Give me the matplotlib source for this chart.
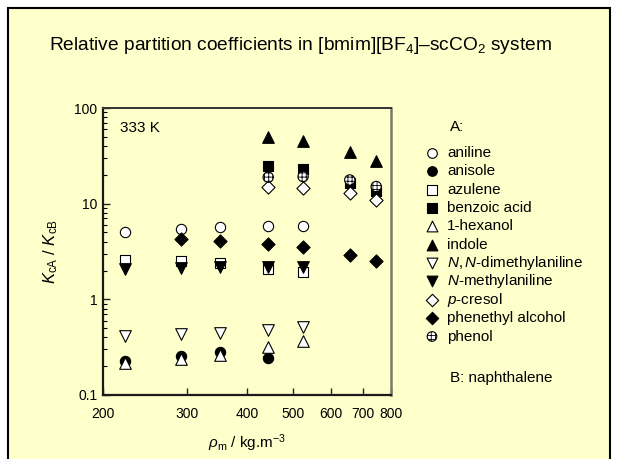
import matplotlib
matplotlib.use("Agg")
import matplotlib.pyplot as plt
from matplotlib.patches import Rectangle
from matplotlib.ticker import NullFormatter, LogLocator, FixedLocator

plt.rcParams['font.family'] = ['Liberation Sans', 'DejaVu Sans']
plt.rcParams['mathtext.fontset'] = 'custom'
plt.rcParams['mathtext.rm'] = 'Liberation Sans'
plt.rcParams['mathtext.it'] = 'Liberation Sans:italic'
plt.rcParams['hatch.linewidth'] = 0.6

# density (kg/m3) of each measurement column
rho = [222, 291, 351, 443, 524, 656, 745]

aniline = [5.1, 5.5, 5.75, 5.9, 5.9]
anisole = [0.225, 0.255, 0.28, 0.245]
azulene = [2.6, 2.5, 2.4, 2.1, 1.95]
benzoic_acid = [24.8, 22.9, 16.5, 13.5]
hexanol = [0.215, 0.24, 0.265, 0.32, 0.37]
indole = [50, 45, 35, 28]
nn_dimethylaniline = [0.415, 0.435, 0.45, 0.48, 0.52]
n_methylaniline = [2.1, 2.15, 2.17, 2.2, 2.2]
p_cresol = [15.1, 14.7, 12.8, 10.9]
phenethyl_alcohol = [4.3, 4.1, 3.8, 3.5, 2.9, 2.5]
phenol = [18.9, 19.2, 17.7, 15.1]

bg = '#FFFFCC'

fig = plt.figure(figsize=(6.18, 4.59), dpi=100, facecolor='white')
fig.patches.append(Rectangle((8 / 618, -0.05), 602 / 618, 1 - 8 / 459 + 0.05,
                             transform=fig.transFigure, facecolor=bg,
                             edgecolor='black', linewidth=1.5, zorder=-10))

ax = fig.add_axes([103 / 618, 1 - 395 / 459, 288 / 618, 287 / 459])
ax.set_facecolor('none')

# overlay in pixel coordinates for the hand-placed key
key = fig.add_axes([0, 0, 1, 1])
key.set_xlim(0, 618)
key.set_ylim(459, 0)
key.axis('off')
key.patch.set_alpha(0)

series = [
    ('aniline', rho[:5], aniline, 'o', 'white', None),
    ('anisole', rho[:4], anisole, 'o', 'black', None),
    ('azulene', rho[:5], azulene, 's', 'white', None),
    ('benzoic acid', rho[3:], benzoic_acid, 's', 'black', None),
    ('1-hexanol', rho[:5], hexanol, '^', 'white', None),
    ('indole', rho[3:], indole, '^', 'black', None),
    (r'$\it{N,N}$-dimethylaniline', rho[:5], nn_dimethylaniline, 'v', 'white', None),
    (r'$\it{N}$-methylaniline', rho[:5], n_methylaniline, 'v', 'black', None),
    (r'$\it{p}$-cresol', rho[3:], p_cresol, 'D', 'white', None),
    ('phenethyl alcohol', rho[1:], phenethyl_alcohol, 'D', 'black', None),
    ('phenol', rho[3:], phenol, 'o', 'white', '++++'),
]
sizes = {'o': 55, 's': 48, '^': 70, 'v': 70, 'D': 45}
key_sizes = {'o': 48, 's': 42, '^': 60, 'v': 60, 'D': 40}

row0, step = 153, 18.35
for i, (lab, xs, ys, mk, fc, hatch) in enumerate(series):
    ax.scatter(xs, ys, s=sizes[mk], marker=mk, facecolor=fc,
               edgecolor='black', linewidths=0.8, hatch=hatch,
               zorder=3 + i, clip_on=False)
    yk = row0 + i * step
    key.scatter([432], [yk], s=key_sizes[mk], marker=mk, facecolor=fc,
                edgecolor='black', linewidths=0.8, hatch=hatch)
    key.text(447, yk + 4, lab, fontsize=11, ha='left', va='baseline')

ax.set_xscale('log')
ax.set_yscale('log')
ax.set_xlim(200, 800)
ax.set_ylim(0.1, 100)

xt = [200, 300, 400, 500, 600, 700, 800]
ax.xaxis.set_major_locator(FixedLocator(xt))
ax.set_xticklabels([str(v) for v in xt])
ax.xaxis.set_minor_locator(FixedLocator([]))
ax.xaxis.set_minor_formatter(NullFormatter())
ax.set_yticks([0.1, 1, 10, 100])
ax.set_yticklabels(['0.1', '1', '10', '100'])
ax.yaxis.set_minor_locator(LogLocator(base=10, subs=range(2, 10)))
ax.yaxis.set_minor_formatter(NullFormatter())

ax.tick_params(axis='both', which='major', direction='in', length=5, width=1,
               labelsize=10, top=False, right=False, color='#222222')
ax.tick_params(axis='y', which='minor', direction='in', length=3, width=0.8)
ax.tick_params(axis='x', pad=9)
ax.tick_params(axis='y', pad=4)

for side in ['left', 'bottom']:
    ax.spines[side].set_linewidth(1.6)
    ax.spines[side].set_color('#1a1a1a')
ax.spines['top'].set_linewidth(1.4)
ax.spines['top'].set_color('#333333')
ax.spines['right'].set_linewidth(1.8)
ax.spines['right'].set_color('#7a7a66')

ax.text(0.059, 0.93, '333 K', transform=ax.transAxes, fontsize=11,
        va='center', ha='left')

ax.set_xlabel(r'$\rho_{\rm m}$ / kg.m$^{-3}$', fontsize=11, labelpad=8)
ax.set_ylabel(r'$K_{\rm cA}$ / $K_{\rm cB}$', fontsize=12, labelpad=10)

key.text(300, 45, r'Relative partition coefficients in [bmim][BF$_4$]–scCO$_2$ system',
         ha='center', va='center', fontsize=13.8)

key.text(450, 127, 'A:', fontsize=11, va='center', ha='left')
key.text(450, 378, 'B: naphthalene', fontsize=11, va='center', ha='left')

fig.savefig('out.png', dpi=100, facecolor='white')
